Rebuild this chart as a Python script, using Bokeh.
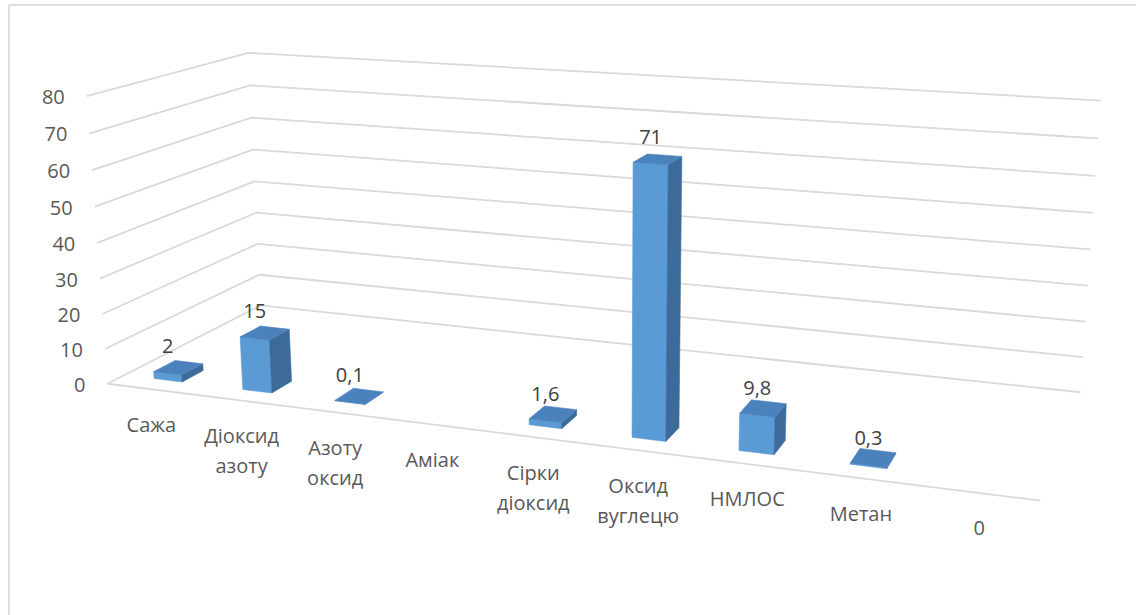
import numpy as np
from bokeh.plotting import figure
from bokeh.models import Range1d
from bokeh.embed import file_html
from bokeh.resources import INLINE
from bokeh.core.properties import value

# ---------------- data ----------------
categories = ["Сажа", "Діоксид\nазоту", "Азоту\nоксид", "Аміак", "Сірки\nдіоксид",
              "Оксид\nвуглецю", "НМЛОС", "Метан", "0"]
values = [2, 15, 0.1, None, 1.6, 71, 9.8, 0.3, None]
value_labels = ["2", "15", "0,1", "", "1,6", "71", "9,8", "0,3", ""]
y_ticks = [0, 10, 20, 30, 40, 50, 60, 70, 80]
y_tick_labels = ["0", "10", "20", "30", "40", "50", "60", "70", "80"]

# ---------------- layout / camera ----------------
W, H = 1136, 615
N = len(categories)
YMAX = y_ticks[-1]
BAR_W = 0.32          # share of a category slot
Z0, Z1 = 0.10, 0.23   # bar depth span inside the floor (0 = front, 1 = back)

# frame anchors of the 3-D box: (category, value, depth) -> screen pixel
frame_world = np.array([[0, 0, 0], [0, YMAX, 0], [0, 0, 1], [0, YMAX, 1],
                        [N, 0, 1], [N, YMAX, 1], [N, 0, 0]], dtype=float)
frame_screen = np.array([[107, 383], [86, 96], [260, 305], [248, 52],
                         [1080, 392], [1100, 100], [1040, 500]], dtype=float)

WS = np.array([1.0, 0.1, 3.0])
SS = 100.0


def fit_camera(world, screen):
    rows = []
    for (X, Y, Z), (u, v) in zip(world * WS, screen / SS):
        rows.append([X, Y, Z, 1, 0, 0, 0, 0, -u * X, -u * Y, -u * Z, -u])
        rows.append([0, 0, 0, 0, X, Y, Z, 1, -v * X, -v * Y, -v * Z, -v])
    _, _, vt = np.linalg.svd(np.array(rows))
    return vt[-1].reshape(3, 4)


CAM = fit_camera(frame_world, frame_screen)


def proj(X, Y, Z):
    q = CAM @ np.array([X * WS[0], Y * WS[1], Z * WS[2], 1.0])
    return q[0] / q[2] * SS, q[1] / q[2] * SS


p = figure(width=W, height=H, x_range=Range1d(0, W), y_range=Range1d(H, 0),
           output_backend="svg", toolbar_location=None, min_border=0)
p.axis.visible = False
p.grid.visible = False
p.outline_line_color = None
p.background_fill_color = "white"
p.border_fill_color = "white"

# chart border
p.multi_line(xs=[[8.5, 8.5, W + 5]], ys=[[H + 5, 4.5, 4.5]], line_color="#d4d4d4", line_width=1.5)

GRID = "#d9d9d9"
# gridlines on side wall and back wall
gx, gy = [], []
for t in y_ticks:
    pts = [proj(0, t, 0), proj(0, t, 1), proj(N, t, 1)]
    gx.append([a for a, b in pts])
    gy.append([b for a, b in pts])
# floor front edge
a0, b0 = proj(0, 0, 0)
a1, b1 = proj(N, 0, 0)
gx.append([a0, a1])
gy.append([b0, b1])
p.multi_line(xs=gx, ys=gy, line_color=GRID, line_width=1.8)

TEXT_FONT = value("Open Sans")
# y tick labels
tx, ty = [], []
for t in y_ticks:
    a, b = proj(0, t, 0)
    tx.append(a - 22)
    ty.append(b + 1)
p.text(x=tx, y=ty, text=y_tick_labels, text_font=TEXT_FONT, text_font_size="20px",
       text_color="#595959", text_align="right", text_baseline="alphabetic")

# bars
FRONT, SIDE, TOP = "#5b9bd5", "#3d6b99", "#4b82bd"
bx, by, bc = [], [], []
lx, ly, lt = [], [], []
for i, v in enumerate(values):
    if v is None:
        continue
    x0 = i + 0.5 - BAR_W / 2
    x1 = i + 0.5 + BAR_W / 2
    faces = [
        ([(x0, 0, Z0), (x1, 0, Z0), (x1, v, Z0), (x0, v, Z0)], FRONT),
        ([(x1, 0, Z0), (x1, 0, Z1), (x1, v, Z1), (x1, v, Z0)], SIDE),
        ([(x0, v, Z0), (x1, v, Z0), (x1, v, Z1), (x0, v, Z1)], TOP),
    ]
    for corners, col in faces:
        pts = [proj(*c) for c in corners]
        bx.append([a for a, b in pts])
        by.append([b for a, b in pts])
        bc.append(col)
    a, b = proj(i + 0.5, v, Z0)
    lx.append(a)
    ly.append(b - 27)
    lt.append(value_labels[i])

p.patches(xs=bx, ys=by, fill_color=bc, line_color=bc, line_width=0.6)
p.text(x=lx, y=ly, text=lt, text_font=TEXT_FONT, text_font_size="20px",
       text_color="#404040", text_align="center", text_baseline="alphabetic")

# category labels
cx, cy, ct = [], [], []
for i, name in enumerate(categories):
    a, b = proj(i + 0.5, 0, 0)
    for k, line in enumerate(name.split("\n")):
        cx.append(a)
        cy.append(b + 35 + 30 * k)
        ct.append(line)
p.text(x=cx, y=cy, text=ct, text_font=TEXT_FONT, text_font_size="20px",
       text_color="#595959", text_align="center", text_baseline="alphabetic")

open("out.html", "w").write(file_html(p, INLINE))
